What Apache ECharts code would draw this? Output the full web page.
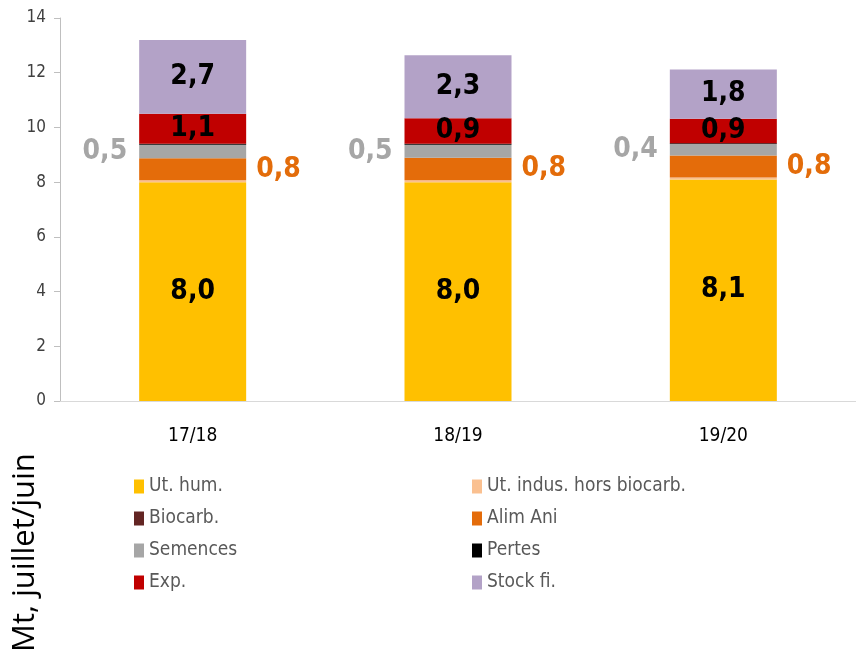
<!DOCTYPE html>
<html>
<head>
<meta charset="utf-8">
<script src="https://cdn.jsdelivr.net/npm/echarts@6/dist/echarts.min.js"></script>
<style>
  html, body { margin: 0; padding: 0; background: #fff; }
  #chart { width: 856px; height: 654px; }
</style>
</head>
<body>
<div id="chart"></div>
<script>
// campagnes
const categories = ['17/18', '18/19', '19/20'];
// Mt par poste
const utHum = [8.0, 8.0, 8.1];
const utIndus = [0.07, 0.07, 0.07];
const biocarb = [0.0, 0.0, 0.0];
const alimAni = [0.8, 0.82, 0.8];
const semences = [0.5, 0.48, 0.42];
const pertes = [0.03, 0.03, 0.03];
const exp = [1.1, 0.94, 0.9];
const stockFi = [2.7, 2.3, 1.8];

const narrow = '"Liberation Sans Narrow", "DejaVu Sans Condensed", sans-serif';

function fmt(p) {
    return p.value.toFixed(1).replace('.', ',');
}

// label style selon le poste
function lbl(kind) {
    if (kind === 'in') {
        return { show: true, position: 'inside', formatter: fmt, color: '#000', fontSize: 28, fontWeight: 'bold', fontFamily: narrow };
    }
    if (kind === 'left') {
        return { show: true, position: 'left', distance: 12, formatter: fmt, color: '#a6a6a6', fontSize: 28, fontWeight: 'bold', fontFamily: narrow };
    }
    if (kind === 'right') {
        return { show: true, position: 'right', distance: 10, formatter: fmt, color: '#e36c0a', fontSize: 28, fontWeight: 'bold', fontFamily: narrow };
    }
    return { show: false };
}

function bar(name, data, color, kind) {
    return {
        name: name,
        type: 'bar',
        stack: 'total',
        barWidth: 107,
        data: data,
        itemStyle: { color: color },
        label: lbl(kind),
        emphasis: { disabled: true }
    };
}

const chart = echarts.init(document.getElementById('chart'));

const legendText = { color: '#595959', fontSize: 19, fontFamily: narrow };

chart.setOption({
    animation: false,
    grid: { left: 60, top: 18, width: 800, height: 383 },
    legend: [
        {
            data: ['Ut. hum.', 'Biocarb.', 'Semences', 'Exp.'],
            orient: 'vertical',
            left: 129, top: 472,
            itemWidth: 10, itemHeight: 14, itemGap: 13,
            icon: 'rect',
            textStyle: legendText
        },
        {
            data: ['Ut. indus. hors biocarb.', 'Alim Ani', 'Pertes', 'Stock fi.'],
            orient: 'vertical',
            left: 467, top: 472,
            itemWidth: 10, itemHeight: 14, itemGap: 13,
            icon: 'rect',
            textStyle: legendText
        }
    ],
    xAxis: {
        type: 'category',
        data: categories,
        axisLine: { lineStyle: { color: '#d9d9d9', width: 1 } },
        axisTick: { show: false },
        axisLabel: { color: '#000', fontSize: 19, margin: 26, fontFamily: narrow }
    },
    yAxis: {
        type: 'value',
        min: 0, max: 14, interval: 2,
        axisLine: { show: true, lineStyle: { color: '#bfbfbf', width: 1 } },
        axisTick: { show: true, length: 6, lineStyle: { color: '#bfbfbf' } },
        axisLabel: { color: '#404040', fontSize: 17, margin: 14, fontFamily: narrow },
        splitLine: { show: false }
    },
    graphic: [
        {
            type: 'text',
            x: 10, y: 652,
            rotation: Math.PI / 2,
            style: {
                text: 'Mt, juillet/juin',
                fill: '#000',
                fontSize: 31,
                fontFamily: '"Open Sans", sans-serif',
                textAlign: 'left',
                textVerticalAlign: 'top'
            }
        }
    ],
    series: [
        bar('Ut. hum.', utHum, '#ffc000', 'in'),
        bar('Ut. indus. hors biocarb.', utIndus, '#fac090', 'none'),
        bar('Biocarb.', biocarb, '#632523', 'none'),
        bar('Alim Ani', alimAni, '#e46c0a', 'right'),
        bar('Semences', semences, '#a6a6a6', 'left'),
        bar('Pertes', pertes, '#000000', 'none'),
        bar('Exp.', exp, '#c00000', 'in'),
        bar('Stock fi.', stockFi, '#b3a2c7', 'in')
    ]
});

window.addEventListener('resize', () => { chart.resize(); });
</script>
</body>
</html>
